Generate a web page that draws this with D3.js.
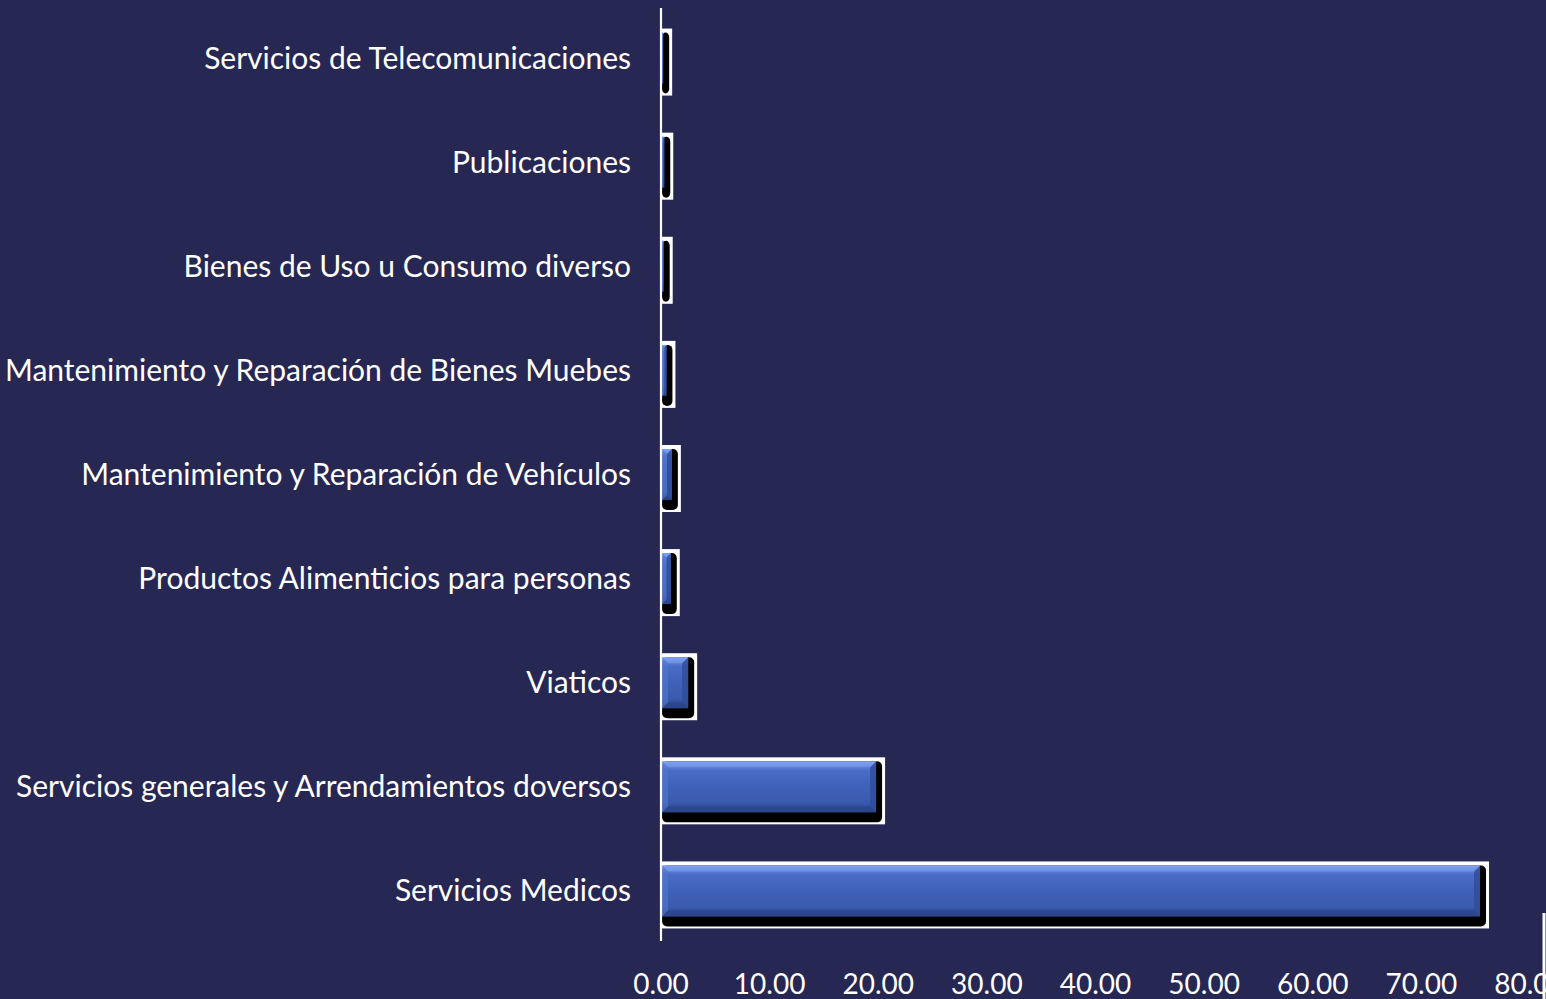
<!DOCTYPE html>
<html><head><meta charset="utf-8">
<script src="https://cdn.jsdelivr.net/npm/d3@7"></script>
<style>html,body{margin:0;padding:0;background:#262752;overflow:hidden}</style>
</head><body>
<svg id="c" width="1546" height="999"></svg>
<script>
const categories = ["Servicios de Telecomunicaciones","Publicaciones","Bienes de Uso u Consumo diverso","Mantenimiento y Reparación de Bienes Muebes","Mantenimiento y Reparación de Vehículos","Productos Alimenticios para personas","Viaticos","Servicios generales y Arrendamientos doversos","Servicios Medicos"];
const values = [0.2, 0.3, 0.25, 0.5, 1.0, 0.9, 2.5, 19.8, 75.4];
const ticks = [0,10,20,30,40,50,60,70,80];

const svg = d3.select("#c");
svg.append("rect").attr("width",1546).attr("height",999).attr("fill","#262752");
const x = d3.scaleLinear().domain([0,80]).range([661,1530]);
const y = d3.scaleBand().domain(categories).range([6,943]).paddingInner(0).paddingOuter(0);
const font = "Lato, 'Open Sans', sans-serif";

const defs = svg.append("defs");
const g = defs.append("linearGradient").attr("id","blue").attr("x1",0).attr("y1",0).attr("x2",0).attr("y2",1);
[[0,"#86a8f2"],[0.1,"#5b80d8"],[0.18,"#4a6cc6"],[0.5,"#3f61b9"],[0.82,"#3a5aae"],[0.9,"#2f4d99"],[1,"#2a4488"]].forEach(([o,c])=>g.append("stop").attr("offset",o).attr("stop-color",c));

const bh = y.bandwidth()*0.49;
const data = categories.map((c,i)=>({c,v:values[i]}));
const bars = svg.append("g").selectAll("g").data(data).join("g");
bars.each(function(d){
  const s = d3.select(this);
  const x0 = x(0)+1, x1 = x(d.v);
  const w = Math.max(x1-x0, 0);
  const yt = y(d.c)+y.bandwidth()/2-bh/2;
  s.append("rect").attr("x",x0).attr("y",yt-4).attr("width",w+6+3).attr("height",bh+10+2+4).attr("fill","#ffffff");
  s.append("rect").attr("x",x0).attr("y",yt).attr("width",w+6).attr("height",bh+10).attr("rx",5).attr("fill","#000000");
  if(w>0.5){
    s.append("rect").attr("x",x0).attr("y",yt).attr("width",w).attr("height",bh).attr("fill","url(#blue)");
    const b = Math.min(6, w/2);
    s.append("path").attr("d",`M${x1},${yt} L${x1},${yt+bh} L${x1-b},${yt+bh-b} L${x1-b},${yt+b} Z`).attr("fill","#2f4d9c").attr("opacity",0.85);
    s.append("path").attr("d",`M${x0},${yt+bh} L${x1},${yt+bh} L${x1-b},${yt+bh-b} L${x0+b},${yt+bh-b} Z`).attr("fill","#2b468c").attr("opacity",0.7);
    s.append("path").attr("d",`M${x0},${yt} L${x1},${yt} L${x1-b},${yt+b} L${x0+b},${yt+b} Z`).attr("fill","#7d9fee").attr("opacity",0.6);
    s.append("path").attr("d",`M${x0},${yt} L${x0+b},${yt+b} L${x0+b},${yt+bh-b} L${x0},${yt+bh} Z`).attr("fill","#5676cf").attr("opacity",0.6);
  }
});

svg.append("line").attr("x1",661).attr("x2",661).attr("y1",8).attr("y2",941).attr("stroke","#ffffff").attr("stroke-width",2.2);

svg.append("g").selectAll("text").data(categories).join("text")
  .attr("x",631).attr("y",d=>y(d)+y.bandwidth()/2).attr("dy","0.35em")
  .attr("text-anchor","end").attr("fill","#ffffff")
  .style("font-family",font).style("font-size","30px").text(d=>d);

svg.append("g").selectAll("text").data(ticks).join("text")
  .attr("x",d=>x(d)).attr("y",984).attr("dy","0.35em")
  .attr("text-anchor","middle").attr("fill","#ffffff")
  .style("font-family",font).style("font-size","28px").text(d=>d3.format(".2f")(d));

svg.append("line").attr("x1",1544).attr("x2",1544).attr("y1",913).attr("y2",999).attr("stroke","#ffffff").attr("stroke-width",3);
</script>
</body></html>
